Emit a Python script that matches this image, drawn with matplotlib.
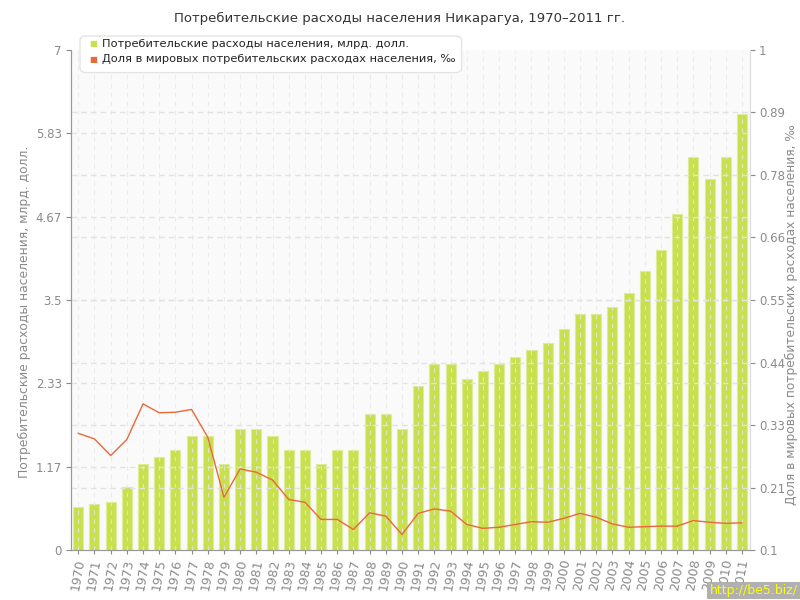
import matplotlib.pyplot as plt
from matplotlib.patches import FancyBboxPatch

years = list(range(1970, 2012))
spending = [0.60, 0.64, 0.67, 0.88, 1.20, 1.30, 1.40, 1.60, 1.60, 1.20,
            1.70, 1.70, 1.60, 1.40, 1.40, 1.20, 1.40, 1.40, 1.90, 1.90,
            1.70, 2.30, 2.60, 2.60, 2.40, 2.50, 2.60, 2.70, 2.80, 2.90,
            3.10, 3.30, 3.30, 3.40, 3.60, 3.90, 4.20, 4.70, 5.50, 5.20,
            5.50, 6.10]
share = [0.310, 0.300, 0.270, 0.299, 0.363, 0.347, 0.348, 0.353, 0.303, 0.195,
         0.246, 0.240, 0.226, 0.191, 0.186, 0.155, 0.155, 0.137, 0.167, 0.161,
         0.128, 0.166, 0.174, 0.170, 0.146, 0.139, 0.141, 0.146, 0.151, 0.150,
         0.157, 0.166, 0.159, 0.147, 0.141, 0.142, 0.143, 0.143, 0.153, 0.150,
         0.148, 0.149]

left_ticks = [0, 7 / 6, 14 / 6, 3.5, 28 / 6, 35 / 6, 7]
left_labels = ["0", "1.17", "2.33", "3.5", "4.67", "5.83", "7"]
right_ticks = [0.1 + 0.1125 * k for k in range(9)]
right_labels = ["0.1", "0.21", "0.33", "0.44", "0.55", "0.66", "0.78", "0.89", "1"]

title = "Потребительские расходы населения Никарагуа, 1970–2011 гг."
label_bars = "Потребительские расходы населения, млрд. долл."
label_line = "Доля в мировых потребительских расходах населения, ‰"

bar_color = "#c8e04e"
line_color = "#e8693a"
text_grey = "#8a8a8a"
grid_color = "#e2e2e2"

plt.rcParams['font.family'] = ['DejaVu Sans']
fig = plt.figure(figsize=(8, 6), dpi=100)
ax = fig.add_axes([0.08875, 0.0833, 0.84875, 0.8334])
ax.set_facecolor("#fafafa")
ax2 = ax.twinx()

x = list(range(len(years)))
ax.bar(x, spending, width=0.62, color=bar_color, edgecolor="#dcec98",
       linewidth=0.8, zorder=2)
ax.set_xlim(-0.45, len(years) - 0.5)
ax.set_ylim(0, 7)
ax.set_yticks(left_ticks)
ax.set_yticklabels(left_labels)
ax.set_xticks(x)
ax.set_xticklabels([str(y) for y in years], rotation=80)

for yv in left_ticks[1:-1]:
    ax.axhline(yv, color=grid_color, lw=1, ls=(0, (4, 3)), zorder=3)
for xv in x:
    ax.axvline(xv, color="#e8e8e8", lw=0.8, ls=(0, (4, 4)), alpha=0.8, zorder=3)

ax2.plot(x, share, color=line_color, lw=1, zorder=4)
ax2.set_ylim(0.1, 1)
ax2.set_yticks(right_ticks)
ax2.set_yticklabels(right_labels)
for yv in right_ticks[1:-1]:
    ax2.axhline(yv, color=grid_color, lw=1, ls=(0, (4, 3)), zorder=1)

for a in (ax, ax2):
    a.spines['top'].set_visible(False)
    a.tick_params(colors=text_grey, labelsize=8.5, length=3.5, pad=3)
    a.spines['left'].set_color("#999999")
    a.spines['bottom'].set_color("#999999")
    a.spines['right'].set_color("#dddddd")
ax.tick_params(axis='x', labelsize=9, length=3, colors=text_grey)

fig.text(0.031, 0.48, label_bars, color=text_grey, fontsize=8.9,
         rotation=90, ha='center', va='center')
fig.text(0.989, 0.475, label_line, color=text_grey, fontsize=8.8,
         rotation=90, ha='center', va='center')

fig.text(0.5, 0.97, title, ha='center', va='center', fontsize=9.5, color="#333333")

# legend box
box = FancyBboxPatch((0.100, 0.879), 0.477, 0.061, boxstyle="round,pad=0,rounding_size=0.008",
                     transform=fig.transFigure, facecolor="white", edgecolor="#e4e4e4",
                     lw=1, zorder=10)
fig.patches.append(box)
fig.text(0.111, 0.927, "■", color=bar_color, fontsize=6, va='center', zorder=11)
fig.text(0.127, 0.927, label_bars, color="#222222", fontsize=8.2, va='center', zorder=11)
fig.text(0.111, 0.901, "■", color=line_color, fontsize=6, va='center', zorder=11)
fig.text(0.127, 0.901, label_line, color="#222222", fontsize=8.2, va='center', zorder=11)

fig.text(0.997, 0.005, "http://be5.biz/", ha='right', va='bottom', fontsize=9,
         color="#ffff00", bbox=dict(facecolor="#b0b0b0", edgecolor="none", pad=1.5))

fig.savefig("out.png", dpi=100)
